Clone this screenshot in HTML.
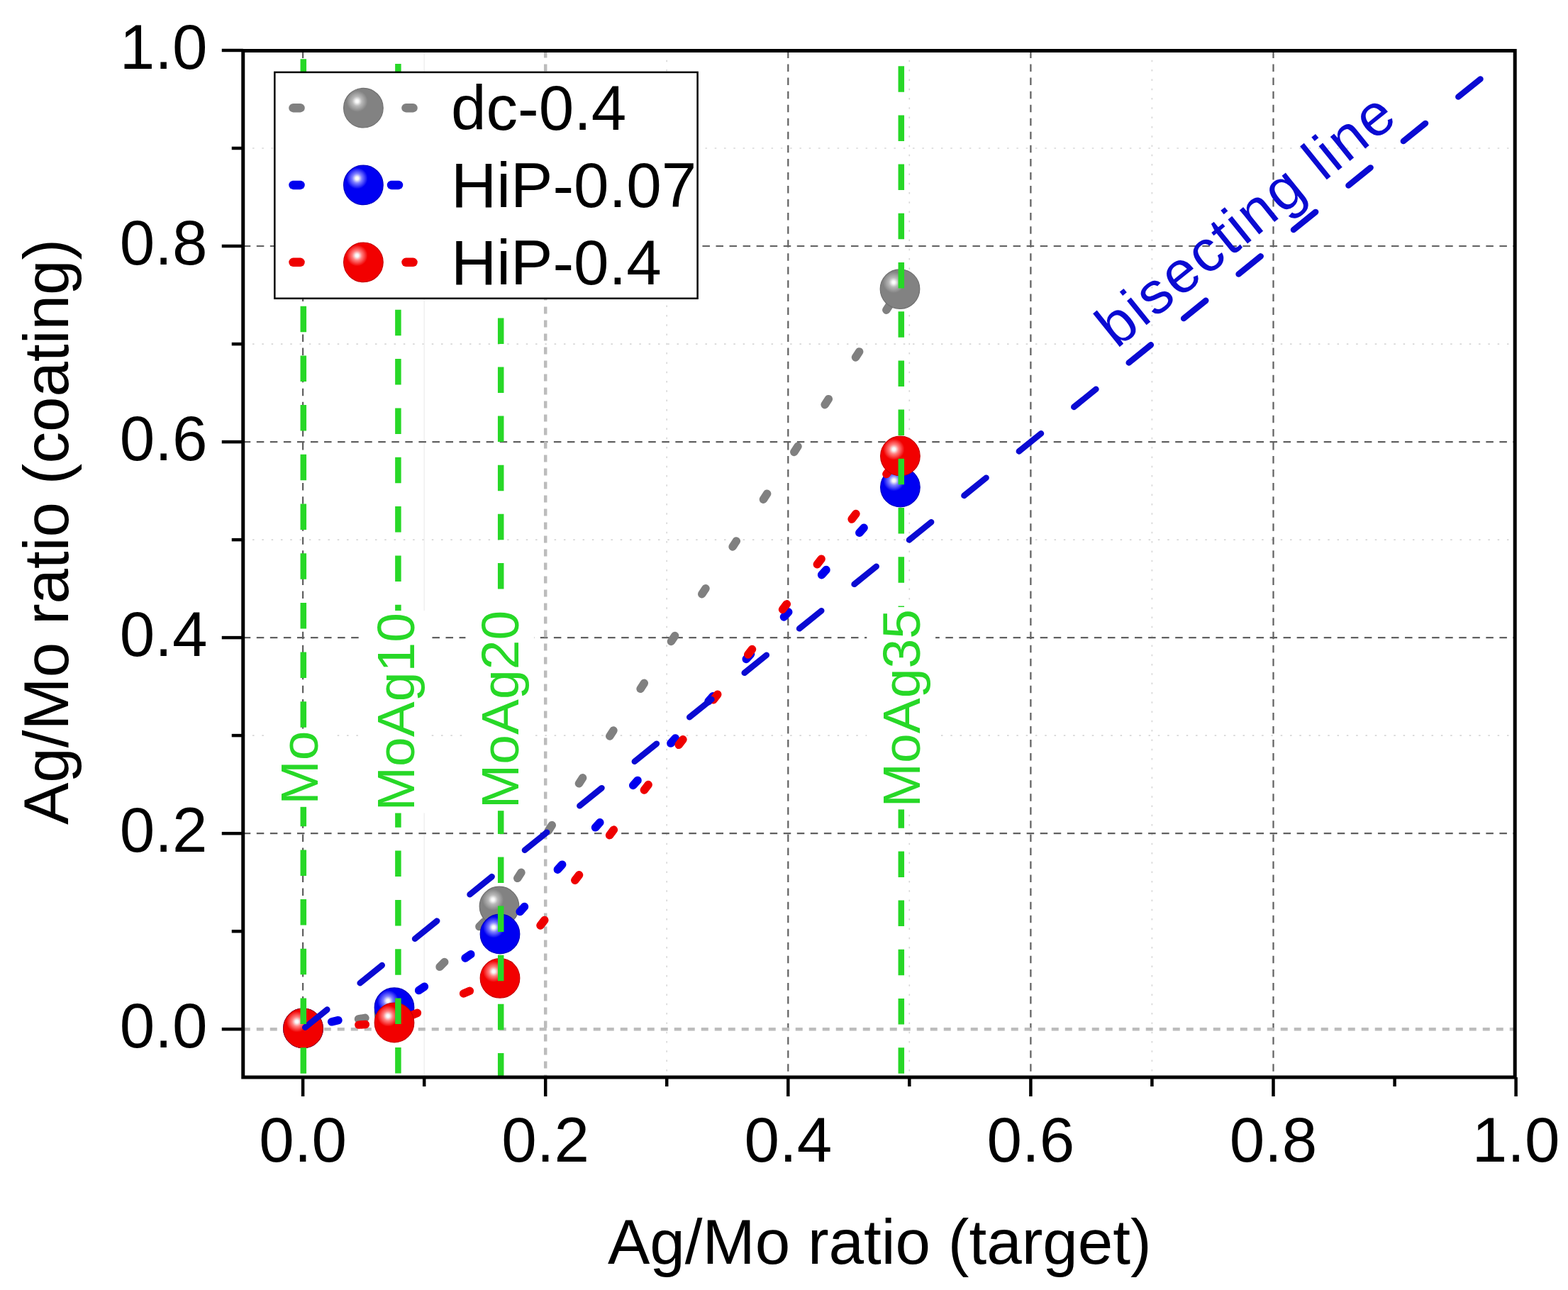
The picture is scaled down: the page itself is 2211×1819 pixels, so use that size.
<!DOCTYPE html><html><head><meta charset="utf-8"><style>html,body{margin:0;padding:0;background:#fff;}svg{display:block}text{font-family:"Liberation Sans",Arial,sans-serif}</style></head><body>
<svg width="2211" height="1819" viewBox="0 0 2211 1819">
<defs>
<radialGradient id="gy" cx="0.34" cy="0.33" r="0.27" fx="0.34" fy="0.33"><stop offset="0" stop-color="#ffffff"/><stop offset="0.15" stop-color="#f6f6f6"/><stop offset="0.45" stop-color="#b8b8b8"/><stop offset="1" stop-color="#828282"/></radialGradient>
<radialGradient id="bl" cx="0.34" cy="0.33" r="0.27" fx="0.34" fy="0.33"><stop offset="0" stop-color="#ffffff"/><stop offset="0.15" stop-color="#f6f6f6"/><stop offset="0.45" stop-color="#8080ff"/><stop offset="1" stop-color="#0000f2"/></radialGradient>
<radialGradient id="rd" cx="0.34" cy="0.33" r="0.27" fx="0.34" fy="0.33"><stop offset="0" stop-color="#ffffff"/><stop offset="0.15" stop-color="#f6f6f6"/><stop offset="0.45" stop-color="#ff8080"/><stop offset="1" stop-color="#f20000"/></radialGradient>
</defs>
<rect x="0" y="0" width="2211" height="1819" fill="#fff"/>
<g stroke="#d6d6d6" stroke-width="1.6" stroke-dasharray="2.5 10.8"><line x1="940.2" y1="71.5" x2="940.2" y2="1519.0"/><line x1="1282.3" y1="71.5" x2="1282.3" y2="1519.0"/><line x1="1624.4" y1="71.5" x2="1624.4" y2="1519.0"/><line x1="342.75" y1="1037.1" x2="2136.2" y2="1037.1"/><line x1="342.75" y1="761.1" x2="2136.2" y2="761.1"/><line x1="342.75" y1="485.1" x2="2136.2" y2="485.1"/><line x1="342.75" y1="209.0" x2="2136.2" y2="209.0"/></g>
<line x1="598.2" y1="71.5" x2="598.2" y2="1519.0" stroke="#f0f0f0" stroke-width="1.5"/>
<g stroke="#606060" stroke-width="2.2" stroke-dasharray="10.5 8.55"><line x1="427.1" y1="71.5" x2="427.1" y2="1519.0"/><line x1="1111.3" y1="71.5" x2="1111.3" y2="1519.0"/><line x1="1453.4" y1="71.5" x2="1453.4" y2="1519.0"/><line x1="1795.5" y1="71.5" x2="1795.5" y2="1519.0"/><line x1="342.75" y1="1175.2" x2="2136.2" y2="1175.2"/><line x1="342.75" y1="899.1" x2="2136.2" y2="899.1"/><line x1="342.75" y1="623.1" x2="2136.2" y2="623.1"/><line x1="342.75" y1="347.0" x2="2136.2" y2="347.0"/></g>
<line x1="342.75" y1="1451.2" x2="2136.2" y2="1451.2" stroke="#bcbcbc" stroke-width="4.5" stroke-dasharray="10 9"/>
<line x1="769.2" y1="71.5" x2="769.2" y2="1519.0" stroke="#bcbcbc" stroke-width="4.5" stroke-dasharray="10 9"/>
<line x1="427.5" y1="1450" x2="556" y2="1428.5" stroke="#808080" stroke-width="11.5" stroke-linecap="round" stroke-dasharray="9.5 70.1" stroke-dashoffset="0.5"/>
<line x1="556" y1="1428.5" x2="704" y2="1278" stroke="#808080" stroke-width="11.5" stroke-linecap="round" stroke-dasharray="9.5 70.1" stroke-dashoffset="67.8"/>
<line x1="704" y1="1278" x2="1269" y2="407.6" stroke="#808080" stroke-width="11.5" stroke-linecap="round" stroke-dasharray="9.5 70.1" stroke-dashoffset="32.3"/>
<circle cx="427.5" cy="1450" r="27.799999999999997" fill="url(#gy)" stroke="#707070" stroke-width="1.2"/>
<circle cx="556" cy="1428.5" r="27.799999999999997" fill="url(#gy)" stroke="#707070" stroke-width="1.2"/>
<circle cx="704" cy="1278" r="27.799999999999997" fill="url(#gy)" stroke="#707070" stroke-width="1.2"/>
<circle cx="1269" cy="407.6" r="27.799999999999997" fill="url(#gy)" stroke="#707070" stroke-width="1.2"/>
<line x1="427.5" y1="1450" x2="556" y2="1420.7" stroke="#0000ee" stroke-width="11.5" stroke-linecap="round" stroke-dasharray="9.5 70.2" stroke-dashoffset="38.5"/>
<line x1="556" y1="1420.7" x2="705" y2="1317" stroke="#0000ee" stroke-width="11.5" stroke-linecap="round" stroke-dasharray="9.5 70.2" stroke-dashoffset="37.5"/>
<line x1="705" y1="1317" x2="1269.4" y2="687" stroke="#0000ee" stroke-width="11.5" stroke-linecap="round" stroke-dasharray="9.5 70.2" stroke-dashoffset="37.5"/>
<circle cx="427.5" cy="1450" r="27.799999999999997" fill="url(#bl)" stroke="#0000c0" stroke-width="1.2"/>
<circle cx="556" cy="1420.7" r="27.799999999999997" fill="url(#bl)" stroke="#0000c0" stroke-width="1.2"/>
<circle cx="705" cy="1317" r="27.799999999999997" fill="url(#bl)" stroke="#0000c0" stroke-width="1.2"/>
<circle cx="1269.4" cy="687" r="27.799999999999997" fill="url(#bl)" stroke="#0000c0" stroke-width="1.2"/>
<line x1="427.5" y1="1450" x2="556" y2="1442" stroke="#ee0000" stroke-width="11.5" stroke-linecap="round" stroke-dasharray="9.5 70.7" stroke-dashoffset="1.7"/>
<line x1="556" y1="1442" x2="705" y2="1379.3" stroke="#ee0000" stroke-width="11.5" stroke-linecap="round" stroke-dasharray="9.5 70.7" stroke-dashoffset="54.5"/>
<line x1="705" y1="1379.3" x2="1269.4" y2="643" stroke="#ee0000" stroke-width="11.5" stroke-linecap="round" stroke-dasharray="9.5 70.7" stroke-dashoffset="66.7"/>
<circle cx="427.5" cy="1450" r="27.799999999999997" fill="url(#rd)" stroke="#c80000" stroke-width="1.2"/>
<circle cx="556" cy="1442" r="27.799999999999997" fill="url(#rd)" stroke="#c80000" stroke-width="1.2"/>
<circle cx="705" cy="1379.3" r="27.799999999999997" fill="url(#rd)" stroke="#c80000" stroke-width="1.2"/>
<circle cx="1269.4" cy="643" r="27.799999999999997" fill="url(#rd)" stroke="#c80000" stroke-width="1.2"/>
<line x1="427.1" y1="1451.2" x2="2095.2" y2="105.2" stroke="#0a0ad2" stroke-width="8.5" stroke-linecap="round" stroke-dasharray="40 59.5" stroke-dashoffset="-4"/>
<line x1="427.8" y1="71.5" x2="427.8" y2="1519.0" stroke="#27d827" stroke-width="8.5" stroke-dasharray="36.5 33.20" stroke-dashoffset="58.00"/>
<line x1="561.4" y1="71.5" x2="561.4" y2="1519.0" stroke="#27d827" stroke-width="8.5" stroke-dasharray="36.5 32.85" stroke-dashoffset="50.90"/>
<line x1="706.2" y1="71.5" x2="706.2" y2="1519.0" stroke="#27d827" stroke-width="8.5" stroke-dasharray="36.5 32.60" stroke-dashoffset="37.70"/>
<line x1="1270.8" y1="71.5" x2="1270.8" y2="1519.0" stroke="#27d827" stroke-width="8.5" stroke-dasharray="36.5 32.70" stroke-dashoffset="47.50"/>
<g transform="translate(447.9,1134.8) rotate(-90)">
<rect x="-3" y="-74.4" width="110.2" height="96.8" fill="#fff"/>
<text x="0" y="0" font-size="75" fill="#27d827" style="paint-order:stroke" stroke="#fff" stroke-width="0">Mo</text>
</g>
<g transform="translate(583.6,1143.5) rotate(-90)">
<rect x="-3" y="-74.4" width="285.4" height="96.8" fill="#fff"/>
<text x="0" y="0" font-size="75" fill="#27d827" style="paint-order:stroke" stroke="#fff" stroke-width="0">MoAg10</text>
</g>
<g transform="translate(730.8,1140.2) rotate(-90)">
<rect x="-3" y="-74.4" width="285.4" height="96.8" fill="#fff"/>
<text x="0" y="0" font-size="75" fill="#27d827" style="paint-order:stroke" stroke="#fff" stroke-width="0">MoAg20</text>
</g>
<g transform="translate(1296.7,1138.4) rotate(-90)">
<rect x="-3" y="-74.4" width="285.4" height="96.8" fill="#fff"/>
<text x="0" y="0" font-size="75" fill="#27d827" style="paint-order:stroke" stroke="#fff" stroke-width="0">MoAg35</text>
</g>
<text transform="translate(1574.5,492.4) rotate(-38.90)" font-size="83" letter-spacing="2.45" fill="#0a0ad2">bisecting line</text>
<g stroke="#000" stroke-width="5" fill="none"><rect x="342.75" y="71.5" width="1793.45" height="1447.50"/></g>
<g stroke="#000" stroke-width="4.5"><line x1="427.1" y1="1519.0" x2="427.1" y2="1546.0"/><line x1="342.75" y1="1451.2" x2="312.75" y2="1451.2"/><line x1="769.2" y1="1519.0" x2="769.2" y2="1546.0"/><line x1="342.75" y1="1175.2" x2="312.75" y2="1175.2"/><line x1="1111.3" y1="1519.0" x2="1111.3" y2="1546.0"/><line x1="342.75" y1="899.1" x2="312.75" y2="899.1"/><line x1="1453.4" y1="1519.0" x2="1453.4" y2="1546.0"/><line x1="342.75" y1="623.1" x2="312.75" y2="623.1"/><line x1="1795.5" y1="1519.0" x2="1795.5" y2="1546.0"/><line x1="342.75" y1="347.0" x2="312.75" y2="347.0"/><line x1="2137.6" y1="1519.0" x2="2137.6" y2="1546.0"/><line x1="342.75" y1="71.0" x2="312.75" y2="71.0"/><line x1="598.2" y1="1519.0" x2="598.2" y2="1532.0"/><line x1="342.75" y1="1313.2" x2="326.75" y2="1313.2"/><line x1="940.2" y1="1519.0" x2="940.2" y2="1532.0"/><line x1="342.75" y1="1037.1" x2="326.75" y2="1037.1"/><line x1="1282.3" y1="1519.0" x2="1282.3" y2="1532.0"/><line x1="342.75" y1="761.1" x2="326.75" y2="761.1"/><line x1="1624.4" y1="1519.0" x2="1624.4" y2="1532.0"/><line x1="342.75" y1="485.1" x2="326.75" y2="485.1"/><line x1="1966.6" y1="1519.0" x2="1966.6" y2="1532.0"/><line x1="342.75" y1="209.0" x2="326.75" y2="209.0"/></g>
<text x="427.1" y="1637.5" font-size="89" text-anchor="middle">0.0</text>
<text x="292.5" y="1476.7" font-size="89" text-anchor="end">0.0</text>
<text x="769.2" y="1637.5" font-size="89" text-anchor="middle">0.2</text>
<text x="292.5" y="1200.7" font-size="89" text-anchor="end">0.2</text>
<text x="1111.3" y="1637.5" font-size="89" text-anchor="middle">0.4</text>
<text x="292.5" y="924.6" font-size="89" text-anchor="end">0.4</text>
<text x="1453.4" y="1637.5" font-size="89" text-anchor="middle">0.6</text>
<text x="292.5" y="648.6" font-size="89" text-anchor="end">0.6</text>
<text x="1795.5" y="1637.5" font-size="89" text-anchor="middle">0.8</text>
<text x="292.5" y="372.5" font-size="89" text-anchor="end">0.8</text>
<text x="2137.6" y="1637.5" font-size="89" text-anchor="middle">1.0</text>
<text x="292.5" y="96.5" font-size="89" text-anchor="end">1.0</text>
<text x="857" y="1782" font-size="89">Ag/Mo ratio (target)</text>
<text transform="translate(96,1163) rotate(-90)" font-size="89">Ag/Mo ratio (coating)</text>
<rect x="387.3" y="101.9" width="596.3" height="318.9" fill="#fff" stroke="#000" stroke-width="2.5"/>
<line x1="413.5" y1="152.2" x2="423.5" y2="152.2" stroke="#808080" stroke-width="12.5" stroke-linecap="round"/>
<line x1="572.5" y1="152.2" x2="582.5" y2="152.2" stroke="#808080" stroke-width="12.5" stroke-linecap="round"/>
<circle cx="512.4" cy="152.2" r="27.799999999999997" fill="url(#gy)" stroke="#707070" stroke-width="1.2"/>
<text x="636" y="183.2" font-size="89">dc-0.4</text>
<line x1="413.5" y1="260.9" x2="423.5" y2="260.9" stroke="#0000ee" stroke-width="12.5" stroke-linecap="round"/>
<line x1="552" y1="260.9" x2="562" y2="260.9" stroke="#0000ee" stroke-width="12.5" stroke-linecap="round"/>
<circle cx="512.4" cy="260.9" r="27.799999999999997" fill="url(#bl)" stroke="#0000c0" stroke-width="1.2"/>
<text x="636" y="291.6" font-size="89">HiP-0.07</text>
<line x1="413.5" y1="369.8" x2="423.5" y2="369.8" stroke="#ee0000" stroke-width="12.5" stroke-linecap="round"/>
<line x1="572.5" y1="369.8" x2="582.5" y2="369.8" stroke="#ee0000" stroke-width="12.5" stroke-linecap="round"/>
<circle cx="512.4" cy="369.8" r="27.799999999999997" fill="url(#rd)" stroke="#c80000" stroke-width="1.2"/>
<text x="636" y="400.5" font-size="89">HiP-0.4</text>
</svg></body></html>
